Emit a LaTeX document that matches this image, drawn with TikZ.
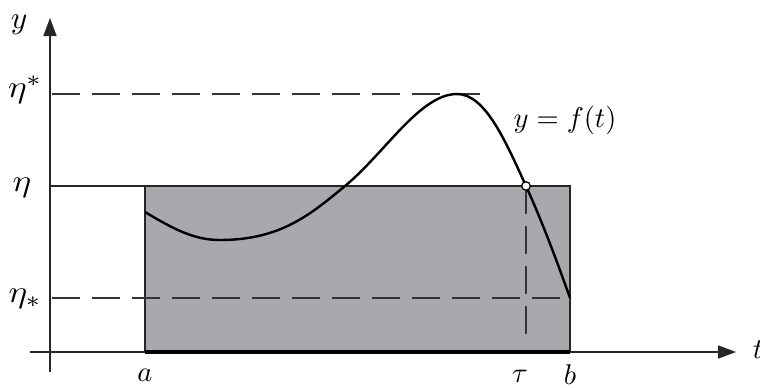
\documentclass[tikz,border=0pt]{standalone}
\usetikzlibrary{arrows.meta}
\begin{document}
\begin{tikzpicture}[x=0.35pt,y=-0.35pt,
  thinline/.style={line width=0.45pt,black!85},
  dashline/.style={line width=0.45pt,black!80,dash pattern=on 9.8pt off 4.2pt},
  axis/.style={line width=0.45pt,black!85,-{Triangle[length=6.3pt,width=4.6pt]}},
  lbl/.style={inner sep=0pt,font=\normalsize},
  etalbl/.style={inner sep=0pt,font=\fontsize{11}{13}\selectfont,xscale=1.12}]
\useasboundingbox (0,0) rectangle (760,387);
\definecolor{boxgray}{RGB}{168,169,173}
% named points
\coordinate (O) at (50,352);
\coordinate (A) at (145,352);
\coordinate (B) at (570,352);
\coordinate (TopA) at (145,186);
\coordinate (TopB) at (570,186);
\coordinate (Tau) at (526,186);
\coordinate (TauLow) at (526,340);
\coordinate (Ystart) at (50,372);
\coordinate (Yend) at (50,18);
\coordinate (Xstart) at (30,352);
\coordinate (Xend) at (736,352);
\coordinate (EtaL) at (50,186);
\coordinate (EsL) at (52,94);
\coordinate (EsR) at (488,94);
\coordinate (ElL) at (52,298);
\coordinate (ElR) at (570,298);
% box
\fill[boxgray] (TopA) rectangle (B);
\draw[thinline] (A) -- (TopA) -- (TopB) -- (B);
\draw[thinline] (EtaL) -- (TopA);
% dashed lines
\draw[dashline] (EsL) -- (EsR);
\draw[dashline] (ElL) -- (ElR);
\draw[dashline] (Tau) -- (TauLow);
% axes
\draw[axis] (Xstart) -- (Xend);
\draw[axis] (Ystart) -- (Yend);
\draw[line width=1.3pt] (A) -- (B);
% curve
\draw[line width=0.85pt] (145,212) .. controls (175,230) and (195,240) .. (220,240)
  .. controls (280,240) and (310,215) .. (345,186)
  .. controls (385,153) and (420,94) .. (457,94)
  .. controls (485,94) and (505,140) .. (Tau)
  .. controls (545,228) and (560,270) .. (ElR);
\node[circle,draw,fill=white,line width=0.45pt,inner sep=0pt,minimum size=3pt] (pt) at (Tau) {};
% labels
\node[inner sep=0pt,font=\fontsize{11}{13}\selectfont] (ly) at (19,25) {$y$};
\node[lbl] (lt) at (758,350) {$t$};
\node[etalbl] (les) at (25,90) {$\eta^*$};
\node[etalbl] (le) at (22,188) {$\eta$};
\node[etalbl] (lel) at (25,299) {$\eta_*$};
\node[lbl] (la) at (145,375) {$a$};
\node[lbl] (ltau) at (520,376) {$\tau$};
\node[lbl] (lb) at (570,375) {$b$};
\node[lbl] (lf) at (565,120) {$y=f(t)$};
\end{tikzpicture}
\end{document}
